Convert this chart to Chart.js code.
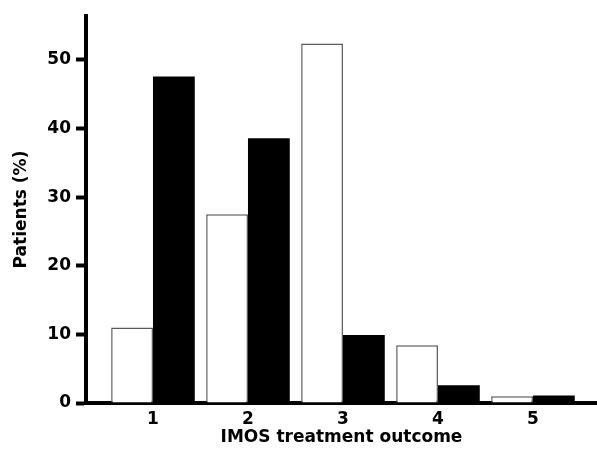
<!DOCTYPE html>
<html lang="en">
  <head>
    <meta charset="UTF-8" />
    <title>IMOS treatment outcome</title>
    <script src="https://cdn.jsdelivr.net/npm/chart.js"></script>
    <style>
      html, body { margin: 0; padding: 0; background: #fff; }
    </style>
  </head>
  <body>
    <canvas id="outcomeChart" width="597" height="450"></canvas>

    <script>
      // IMOS outcome categories and % of patients per group
      const outcomes = [1, 2, 3, 4, 5];
      const openBars = [11, 27.5, 52.4, 8.4, 1.0];
      const filledBars = [47.6, 38.6, 9.9, 2.6, 1.1];
      const yTicks = [0, 10, 20, 30, 40, 50];

      const toPoints = (vals) => outcomes.map((x, i) => ({ x: x, y: vals[i] }));
      const tickFont = { family: "DejaVu Sans", size: 17, weight: "bold" };

      const ctx = document.getElementById("outcomeChart").getContext("2d");
      new Chart(ctx, {
        type: "bar",
        data: {
          datasets: [
            {
              label: "open",
              data: toPoints(openBars),
              backgroundColor: "#ffffff",
              borderColor: "#5a5a5a",
              borderWidth: 1.5,
            },
            {
              label: "filled",
              data: toPoints(filledBars),
              backgroundColor: "#000000",
              borderColor: "#000000",
              borderWidth: 0,
            },
          ],
        },
        options: {
          responsive: false,
          animation: false,
          barPercentage: 1,
          categoryPercentage: 0.88,
          layout: { padding: { top: 16, right: 0, bottom: 0, left: 0 } },
          plugins: {
            legend: { display: false },
            tooltip: { enabled: false },
          },
          scales: {
            x: {
              type: "linear",
              offset: false,
              min: 0.295,
              max: 5.674,
              z: 1,
              afterFit: (s) => { s.height = 47; },
              afterBuildTicks: (s) => {
                s.ticks = outcomes.map((v) => ({ value: v }));
              },
              grid: { display: false, drawTicks: false },
              border: { display: true, color: "#000", width: 4 },
              ticks: { color: "#000", font: tickFont, padding: 6 },
              title: {
                display: true,
                text: "IMOS treatment outcome",
                color: "#000",
                font: { family: "DejaVu Sans", size: 17, weight: "bold" },
                padding: { top: 0, bottom: 2 },
              },
            },
            y: {
              min: 0,
              max: 56.4,
              z: 1,
              afterFit: (s) => { s.width = 86; },
              afterBuildTicks: (s) => {
                s.ticks = yTicks.map((v) => ({ value: v }));
              },
              grid: {
                display: true,
                drawOnChartArea: false,
                drawTicks: true,
                tickLength: 10,
                tickWidth: 4,
                tickColor: "#000",
              },
              border: { display: true, color: "#000", width: 4 },
              ticks: { color: "#000", font: tickFont, padding: 5 },
              title: {
                display: true,
                text: "Patients (%)",
                color: "#000",
                font: { family: "DejaVu Sans", size: 17, weight: "bold" },
                padding: { top: 11, bottom: 0 },
              },
            },
          },
        },
      });
    </script>
  </body>
</html>
